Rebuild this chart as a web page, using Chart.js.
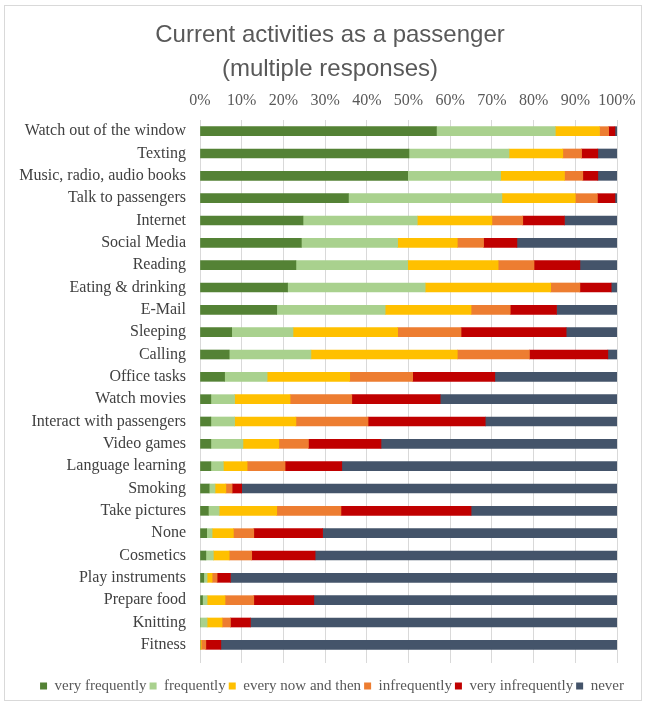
<!DOCTYPE html>
<html>
<head>
<meta charset="utf-8">
<script src="https://cdn.jsdelivr.net/npm/chart.js@4"></script>
<style>
  body { margin: 0; background: #fff; }
  #wrap { position: relative; width: 647px; height: 705px; }
  #frame { position: absolute; left: 4px; top: 5px; width: 636px; height: 694px; border: 1px solid #d9d9d9; pointer-events: none; }
</style>
</head>
<body>
<div id="wrap">
  <canvas id="grafico" width="647" height="705"></canvas>
  <div id="frame"></div>
</div>
<script>
const actividades = ["Watch out of the window", "Texting", "Music, radio, audio books", "Talk to passengers",
  "Internet", "Social Media", "Reading", "Eating & drinking", "E-Mail", "Sleeping", "Calling",
  "Office tasks", "Watch movies", "Interact with passengers", "Video games", "Language learning",
  "Smoking", "Take pictures", "None", "Cosmetics", "Play instruments", "Prepare food", "Knitting", "Fitness"];

const muyFrecuente = [56.7, 50.1, 49.8, 35.6, 24.7, 24.3, 23.0, 21.0, 18.4, 7.6, 7.0, 5.9, 2.6, 2.6, 2.6, 2.6, 2.2, 2.0, 1.6, 1.4, 0.9, 0.6, 0, 0];
const frecuente = [28.5, 24.0, 22.3, 36.8, 27.4, 23.1, 26.8, 33.0, 26.0, 14.7, 19.6, 10.2, 5.7, 5.7, 7.7, 3.0, 1.4, 2.6, 1.3, 1.8, 0.8, 1.1, 1.7, 0];
const aVeces = [10.6, 12.9, 15.3, 17.6, 17.9, 14.3, 21.7, 30.1, 20.6, 25.1, 35.1, 19.8, 13.3, 14.7, 8.6, 5.7, 2.6, 13.8, 5.1, 3.8, 1.2, 4.3, 3.6, 0.3];
const pocoFrecuente = [2.2, 4.5, 4.4, 5.3, 7.4, 6.3, 8.6, 7.0, 9.4, 15.2, 17.3, 15.1, 14.8, 17.3, 7.1, 9.1, 1.5, 15.4, 4.9, 5.4, 1.2, 6.9, 2.0, 1.1];
const muyPoco = [1.5, 3.9, 3.6, 4.2, 10.0, 8.0, 11.0, 7.5, 11.1, 25.2, 18.8, 19.7, 21.2, 28.1, 17.4, 13.6, 2.3, 31.2, 16.5, 15.2, 3.2, 14.4, 4.8, 3.6];
const nunca = [0.5, 4.6, 4.6, 0.5, 12.6, 24.0, 8.9, 1.4, 14.5, 12.2, 2.2, 29.3, 42.4, 31.6, 56.6, 66.0, 90.0, 35.0, 70.6, 72.4, 92.7, 72.7, 87.9, 95.0];

const nombresSeries = ["very frequently", "frequently", "every now and then", "infrequently", "very infrequently", "never"];
const colores = ["#548235", "#a9d18e", "#ffc000", "#ed7d31", "#c00000", "#44546a"];
const valores = [muyFrecuente, frecuente, aVeces, pocoFrecuente, muyPoco, nunca];

const serif = "'Liberation Serif', 'Times New Roman', serif";

const data = {
  labels: actividades,
  datasets: nombresSeries.map((n, i) => ({
    label: n,
    data: valores[i],
    backgroundColor: colores[i],
    borderWidth: 0,
    barThickness: 9
  }))
};

// mueve titulo y leyenda un poco a la derecha, como en el original
const desplazar = {
  id: 'desplazar',
  afterLayout(chart) {
    if (chart.titleBlock) { chart.titleBlock.left += 19; chart.titleBlock.right += 19; }
    if (chart.legend) { chart.legend.left += 21; chart.legend.right += 21; }
  }
};

const config = {
  type: 'bar',
  data,
  plugins: [desplazar],
  options: {
    indexAxis: 'y',
    responsive: false,
    animation: false,
    layout: { padding: { top: 6, left: 5, right: 30, bottom: 1.5 } },
    plugins: {
      title: {
        display: true,
        text: ["Current activities as a passenger", "(multiple responses)"],
        color: '#595959',
        font: { family: "'Liberation Sans', Arial, sans-serif", size: 24, weight: 'normal', lineHeight: 1.4 },
        padding: { top: 13, bottom: 0 }
      },
      legend: {
        position: 'bottom',
        labels: {
          color: '#595959',
          font: { family: serif, size: 15 },
          boxWidth: 7,
          boxHeight: 7,
          padding: 3
        }
      },
      tooltip: { enabled: false }
    },
    scales: {
      x: {
        position: 'top',
        stacked: true,
        min: 0,
        max: 100,
        ticks: {
          stepSize: 10,
          padding: 10,
          autoSkip: false,
          maxRotation: 0,
          minRotation: 0,
          color: '#595959',
          font: { family: serif, size: 16 },
          callback: v => v + '%'
        },
        grid: { color: '#d9d9d9', drawTicks: false },
        border: { display: false },
        afterFit: s => { s.height = 33.8 }
      },
      x2: {
        position: 'bottom',
        axis: 'x',
        min: 0,
        max: 100,
        ticks: { stepSize: 10, display: false },
        grid: { color: '#d9d9d9', drawOnChartArea: false, drawTicks: true, tickLength: 7 },
        border: { display: false },
        afterFit: s => { s.height = 19.5 }
      },
      y: {
        stacked: true,
        ticks: {
          padding: 14,
          autoSkip: false,
          color: '#404040',
          font: { family: serif, size: 16 }
        },
        grid: { display: false, drawTicks: false },
        border: { display: false },
        afterFit: s => { s.width = 195 }
      }
    }
  }
};

let chart1 = new Chart(document.getElementById("grafico"), config);
</script>
</body>
</html>
